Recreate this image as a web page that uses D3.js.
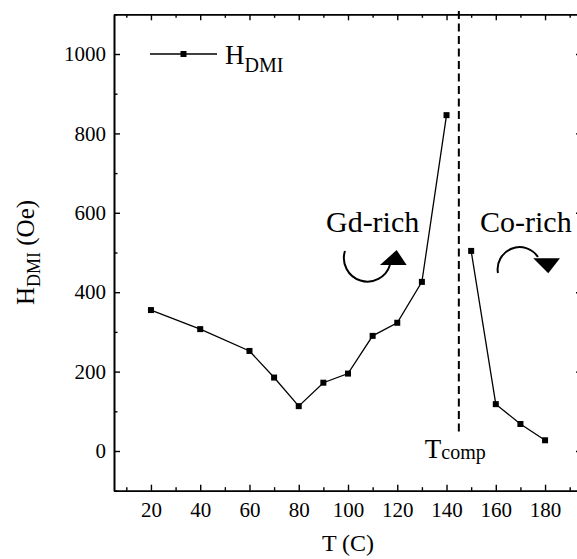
<!DOCTYPE html>
<html>
<head>
<meta charset="utf-8">
<script src="https://cdn.jsdelivr.net/npm/d3@7"></script>
<style>
  html, body { margin: 0; padding: 0; background: #fff; overflow: hidden; font-family: 'Liberation Serif'; }
</style>
</head>
<body>
<svg id="chart" width="577" height="559" font-family="Liberation Serif"></svg>
<script>
// ---- data ----
const tempsGd = [20, 40, 60, 70, 80, 90, 100, 110, 120, 130, 140];
const hdmiGd  = [355, 307, 252, 185, 113, 172, 195, 290, 323, 426, 846];
const tempsCo = [150, 160, 170, 180];
const hdmiCo  = [504, 118, 68, 27];
const tComp = 145;
const xTickValues = [20, 40, 60, 80, 100, 120, 140, 160, 180];
const xMinorValues = [10, 30, 50, 70, 90, 110, 130, 150, 170, 190];
const yTickValues = [0, 200, 400, 600, 800, 1000];
const yMinorValues = [-100, 100, 300, 500, 700, 900, 1100];

const FONT = "Liberation Serif";
const svg = d3.select("#chart");
const x = d3.scaleLinear().domain([5, 195]).range([114, 582]);
const y = d3.scaleLinear().domain([-100, 1100]).range([490.7, 14.3]);

const X0 = x.range()[0], X1 = x.range()[1], Y0 = y.range()[0], Y1 = y.range()[1];
const fmt = d3.format("d");

function styleAxis(g) {
  g.attr("font-family", FONT).attr("font-size", 21);
  g.select(".domain").attr("stroke", "#000").attr("stroke-width", 1.6);
  g.selectAll(".tick line").attr("stroke", "#000").attr("stroke-width", 1.4);
  g.selectAll("text").attr("font-family", FONT).attr("font-size", 21).attr("fill", "#000");
}

// bottom
svg.append("g").attr("transform", `translate(0,${Y0})`)
  .call(d3.axisBottom(x).tickValues(xMinorValues).tickSize(-3.5).tickFormat("").tickSizeOuter(0)).call(styleAxis);
svg.append("g").attr("transform", `translate(0,${Y0})`)
  .call(d3.axisBottom(x).tickValues(xTickValues).tickSize(-6).tickPadding(11).tickFormat(fmt).tickSizeOuter(0)).call(styleAxis);
// top
svg.append("g").attr("transform", `translate(0,${Y1})`)
  .call(d3.axisTop(x).tickValues(xMinorValues).tickSize(-3.5).tickFormat("").tickSizeOuter(0)).call(styleAxis);
svg.append("g").attr("transform", `translate(0,${Y1})`)
  .call(d3.axisTop(x).tickValues(xTickValues).tickSize(-6).tickFormat("").tickSizeOuter(0)).call(styleAxis);
// left
svg.append("g").attr("transform", `translate(${X0},0)`)
  .call(d3.axisLeft(y).tickValues(yMinorValues).tickSize(-3.5).tickFormat("").tickSizeOuter(0)).call(styleAxis);
svg.append("g").attr("transform", `translate(${X0},0)`)
  .call(d3.axisLeft(y).tickValues(yTickValues).tickSize(-6).tickPadding(8).tickFormat(fmt).tickSizeOuter(0)).call(styleAxis);
// right
svg.append("g").attr("transform", `translate(${X1},0)`)
  .call(d3.axisRight(y).tickValues(yMinorValues).tickSize(-3.5).tickFormat("").tickSizeOuter(0)).call(styleAxis);
svg.append("g").attr("transform", `translate(${X1},0)`)
  .call(d3.axisRight(y).tickValues(yTickValues).tickSize(-6).tickFormat("").tickSizeOuter(0)).call(styleAxis);

// dashed compensation line
svg.append("line")
  .attr("x1", x(tComp)).attr("x2", x(tComp))
  .attr("y1", y(1108)).attr("y2", y(45))
  .attr("stroke", "#000").attr("stroke-width", 2)
  .attr("stroke-dasharray", "8,4.5");

// data series
const line = d3.line().x(d => x(d[0])).y(d => y(d[1]));
const segs = [d3.zip(tempsGd, hdmiGd), d3.zip(tempsCo, hdmiCo)];
segs.forEach(seg => {
  svg.append("path").datum(seg).attr("d", line)
    .attr("fill", "none").attr("stroke", "#000").attr("stroke-width", 1.3);
  svg.append("g").selectAll("rect").data(seg).join("rect")
    .attr("x", d => x(d[0]) - 3).attr("y", d => y(d[1]) - 3)
    .attr("width", 6).attr("height", 6).attr("fill", "#000");
});

function txt(parent) {
  return parent.append("text").attr("font-family", FONT).attr("fill", "#000");
}

// legend
const lgX = 150, lgY = y(1000);
svg.append("line").attr("x1", lgX).attr("x2", lgX + 67).attr("y1", lgY).attr("y2", lgY)
  .attr("stroke", "#000").attr("stroke-width", 1.3);
svg.append("rect").attr("x", lgX + 33.5 - 3).attr("y", lgY - 3).attr("width", 6).attr("height", 6).attr("fill", "#000");
const lt = txt(svg).attr("x", lgX + 75).attr("y", lgY + 9.5).attr("font-size", 27);
lt.append("tspan").text("H");
lt.append("tspan").attr("dy", 8).attr("font-size", 20).text("DMI");

// axis titles
txt(svg).attr("x", (X0 + X1) / 2).attr("y", 551)
  .attr("text-anchor", "middle").attr("font-size", 24).text("T (C)");
const yt = txt(svg).attr("transform", `translate(34,${(Y0 + Y1) / 2}) rotate(-90)`)
  .attr("text-anchor", "middle").attr("font-size", 25);
yt.append("tspan").text("H");
yt.append("tspan").attr("dy", 6).attr("font-size", 18).text("DMI");
yt.append("tspan").attr("dy", -6).text(" (Oe)");

// T_comp label
const tc = txt(svg).attr("x", x(tComp) - 34).attr("y", y(-17)).attr("font-size", 27);
tc.append("tspan").text("T");
tc.append("tspan").attr("dy", 1).attr("font-size", 20).text("comp");

// region labels
txt(svg).attr("x", x(110)).attr("y", y(552)).attr("text-anchor", "middle")
  .attr("font-size", 30).text("Gd-rich");
txt(svg).attr("x", x(153.6)).attr("y", y(552)).attr("text-anchor", "start")
  .attr("font-size", 30).text("Co-rich");

// curved arrows
const gdC = [x(108.1), y(486)];
const ga = svg.append("g").attr("transform", `translate(${gdC[0]},${gdC[1]})`);
ga.append("path").attr("d", "M-23,-7 A23,23 0 0,0 22,7")
  .attr("fill", "none").attr("stroke", "#000").attr("stroke-width", 2);
ga.append("path").attr("d", "M12,7 L28.7,-8 L38.7,7 Z").attr("fill", "#000");

const coC = [x(169), y(466)];
const ca = svg.append("g").attr("transform", `translate(${coC[0]},${coC[1]})`);
ca.append("path").attr("d", "M-20,7 A22,22 0 0,1 20,-9")
  .attr("fill", "none").attr("stroke", "#000").attr("stroke-width", 2);
ca.append("path").attr("d", "M15.3,-7.7 L42,-7.7 L30.3,7.3 Z").attr("fill", "#000");
</script>
</body>
</html>
